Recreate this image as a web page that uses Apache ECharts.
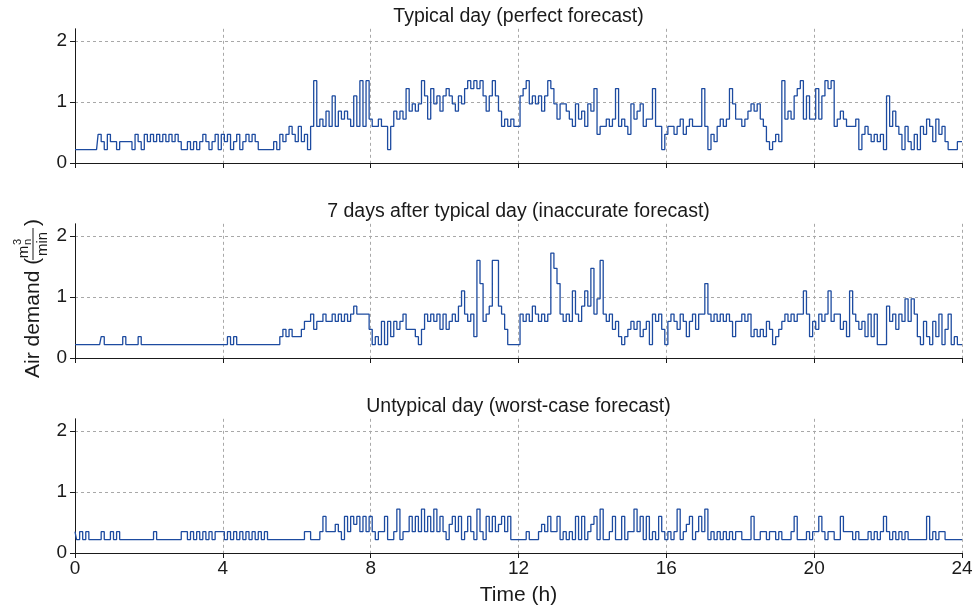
<!DOCTYPE html>
<html><head><meta charset="utf-8">
<script src="https://cdn.jsdelivr.net/npm/echarts@6/dist/echarts.min.js"></script>
<style>html,body{margin:0;padding:0;background:#fff}#c{width:978px;height:609px}</style>
</head><body><div id="c"></div>
<script>
// ---------- data (air demand, m_n^3/min, sampled every 5 minutes, 0h..24h) ----------
const sampleMinutes = 5;
const hourTicks = [0, 4, 8, 12, 16, 20, 24];
const yTicks = [0, 1, 2];
const panelTitles = [
  'Typical day (perfect forecast)',
  '7 days after typical day (inaccurate forecast)',
  'Untypical day (worst-case forecast)'
];
const typicalDay = [
  0.22,0.22,0.22,0.22,0.22,0.22,0.22,0.22,0.47,0.35,0.22,0.47,
  0.35,0.35,0.22,0.35,0.35,0.35,0.35,0.22,0.47,0.35,0.22,0.47,
  0.35,0.47,0.35,0.47,0.35,0.47,0.35,0.47,0.35,0.47,0.35,0.22,
  0.22,0.35,0.22,0.35,0.22,0.35,0.47,0.35,0.22,0.35,0.47,0.22,
  0.47,0.35,0.47,0.22,0.35,0.47,0.22,0.35,0.47,0.35,0.47,0.35,
  0.22,0.22,0.22,0.22,0.22,0.35,0.22,0.47,0.35,0.47,0.6,0.47,
  0.35,0.6,0.35,0.47,0.22,0.6,1.35,0.6,0.72,0.6,0.85,0.6,
  1.1,0.6,0.85,0.72,0.85,0.72,0.6,1.1,0.6,1.35,0.6,1.35,
  0.72,0.6,0.6,0.72,0.6,0.6,0.22,0.6,0.85,0.72,0.85,0.72,
  1.22,0.85,0.97,0.85,0.97,1.35,1.1,0.72,1.22,0.97,1.1,0.85,
  1.1,1.22,1.1,0.97,0.85,1.1,0.97,1.22,1.35,1.22,1.35,1.22,
  1.35,1.1,0.85,1.1,1.35,1.1,0.85,0.6,0.72,0.6,0.72,0.6,
  0.6,1.1,1.22,1.35,0.97,1.1,0.97,1.1,0.85,1.1,1.35,1.22,
  0.97,0.72,0.97,0.97,0.85,0.72,0.6,0.97,0.72,0.85,0.6,0.97,
  0.85,1.22,0.47,0.6,0.6,0.72,0.6,0.72,1.22,0.6,0.72,0.6,
  0.47,0.97,0.72,0.85,0.97,0.6,0.72,0.72,1.22,0.6,0.6,0.22,
  0.47,0.6,0.6,0.47,0.6,0.72,0.47,0.6,0.72,0.6,0.6,0.6,
  1.22,0.6,0.22,0.47,0.35,0.6,0.72,0.6,0.72,1.22,0.97,0.72,
  0.72,0.6,0.72,0.85,0.97,0.85,0.97,0.72,0.6,0.35,0.22,0.35,
  0.47,0.35,1.35,0.72,0.85,0.72,1.1,1.22,1.35,0.72,1.1,0.72,
  0.72,1.22,0.72,1.1,1.35,1.22,1.35,0.6,0.72,0.85,0.72,0.6,
  0.6,0.6,0.72,0.22,0.47,0.6,0.47,0.35,0.47,0.35,0.47,0.22,
  1.1,0.6,0.85,0.6,0.47,0.22,0.6,0.35,0.22,0.47,0.22,0.6,
  0.47,0.72,0.6,0.35,0.72,0.47,0.6,0.35,0.22,0.22,0.22,0.35,
  0.35
];
const sevenDaysAfter = [
  0.22,0.22,0.22,0.22,0.22,0.22,0.22,0.22,0.22,0.35,0.22,0.22,
  0.22,0.22,0.22,0.22,0.35,0.22,0.22,0.22,0.22,0.35,0.22,0.22,
  0.22,0.22,0.22,0.22,0.22,0.22,0.22,0.22,0.22,0.22,0.22,0.22,
  0.22,0.22,0.22,0.22,0.22,0.22,0.22,0.22,0.22,0.22,0.22,0.22,
  0.22,0.22,0.35,0.22,0.35,0.22,0.22,0.22,0.22,0.22,0.22,0.22,
  0.22,0.22,0.22,0.22,0.22,0.22,0.22,0.35,0.47,0.35,0.47,0.35,
  0.35,0.35,0.47,0.6,0.6,0.72,0.47,0.6,0.6,0.72,0.6,0.6,
  0.72,0.6,0.72,0.6,0.72,0.6,0.72,0.85,0.72,0.72,0.72,0.72,
  0.47,0.22,0.35,0.22,0.6,0.22,0.6,0.35,0.6,0.47,0.6,0.72,
  0.47,0.47,0.47,0.35,0.22,0.47,0.72,0.6,0.72,0.6,0.72,0.47,
  0.72,0.47,0.6,0.72,0.6,0.85,1.1,0.72,0.6,0.72,0.35,1.6,
  1.22,0.6,0.72,0.85,1.6,1.6,0.85,0.72,0.47,0.22,0.22,0.22,
  0.22,0.72,0.6,0.72,0.6,0.85,0.72,0.6,0.72,0.6,0.72,1.72,
  1.47,1.22,0.72,0.6,0.72,0.6,1.1,0.72,0.6,0.85,1.1,0.85,
  1.47,0.72,0.97,1.6,0.72,0.6,0.72,0.47,0.6,0.35,0.22,0.35,
  0.47,0.6,0.47,0.6,0.35,0.47,0.6,0.22,0.72,0.6,0.72,0.47,
  0.22,0.6,0.72,0.6,0.47,0.72,0.6,0.35,0.6,0.72,0.47,0.72,
  0.72,1.22,0.72,0.6,0.72,0.6,0.72,0.6,0.72,0.6,0.35,0.6,
  0.6,0.72,0.6,0.72,0.35,0.47,0.35,0.47,0.35,0.6,0.47,0.22,
  0.35,0.47,0.6,0.72,0.6,0.72,0.6,0.72,0.72,1.1,0.72,0.35,
  0.6,0.47,0.72,0.6,0.72,1.1,0.6,0.72,0.72,0.47,0.6,0.35,
  1.1,0.72,0.6,0.47,0.6,0.35,0.72,0.35,0.72,0.22,0.22,0.22,
  0.85,0.6,0.72,0.47,0.72,0.6,0.97,0.6,0.97,0.72,0.35,0.22,
  0.6,0.35,0.22,0.6,0.35,0.72,0.22,0.47,0.72,0.22,0.35,0.22,
  0.22
];
const untypicalDay = [
  0.35,0.22,0.35,0.22,0.35,0.22,0.22,0.22,0.22,0.35,0.22,0.22,
  0.35,0.22,0.35,0.22,0.22,0.22,0.22,0.22,0.22,0.22,0.22,0.22,
  0.22,0.22,0.35,0.22,0.22,0.22,0.22,0.22,0.22,0.22,0.22,0.35,
  0.35,0.22,0.35,0.22,0.35,0.22,0.35,0.22,0.35,0.22,0.35,0.35,
  0.35,0.22,0.35,0.22,0.35,0.22,0.35,0.22,0.35,0.22,0.35,0.22,
  0.35,0.22,0.35,0.22,0.22,0.22,0.22,0.22,0.22,0.22,0.22,0.22,
  0.22,0.22,0.22,0.35,0.35,0.22,0.22,0.22,0.35,0.6,0.35,0.35,
  0.35,0.47,0.35,0.22,0.6,0.35,0.6,0.47,0.6,0.35,0.6,0.35,
  0.6,0.35,0.22,0.35,0.35,0.6,0.22,0.22,0.35,0.72,0.22,0.35,
  0.35,0.6,0.35,0.6,0.35,0.72,0.35,0.6,0.35,0.72,0.35,0.6,
  0.35,0.22,0.47,0.6,0.35,0.6,0.22,0.35,0.6,0.35,0.22,0.72,
  0.35,0.22,0.6,0.35,0.6,0.35,0.47,0.6,0.35,0.6,0.22,0.22,
  0.22,0.22,0.22,0.35,0.22,0.22,0.22,0.35,0.47,0.35,0.6,0.35,
  0.35,0.6,0.22,0.35,0.22,0.35,0.22,0.6,0.22,0.6,0.22,0.35,
  0.47,0.6,0.22,0.72,0.22,0.22,0.35,0.6,0.22,0.22,0.6,0.22,
  0.35,0.35,0.72,0.35,0.6,0.22,0.6,0.22,0.35,0.22,0.6,0.35,
  0.22,0.35,0.22,0.35,0.72,0.22,0.35,0.47,0.6,0.22,0.35,0.6,
  0.35,0.72,0.22,0.35,0.22,0.35,0.22,0.35,0.22,0.35,0.22,0.35,
  0.35,0.22,0.22,0.22,0.6,0.22,0.22,0.35,0.35,0.22,0.35,0.35,
  0.22,0.35,0.22,0.22,0.22,0.35,0.6,0.22,0.22,0.22,0.35,0.22,
  0.35,0.35,0.6,0.35,0.22,0.35,0.35,0.22,0.22,0.6,0.35,0.35,
  0.35,0.22,0.35,0.22,0.22,0.22,0.35,0.22,0.35,0.22,0.35,0.6,
  0.35,0.22,0.35,0.22,0.35,0.22,0.35,0.22,0.22,0.22,0.22,0.22,
  0.22,0.6,0.22,0.35,0.22,0.35,0.35,0.22,0.22,0.22,0.22,0.22,
  0.22
];
const panels = [typicalDay, sevenDaysAfter, untypicalDay];

// ---------- chart ----------
const FONT = '"Liberation Sans", Arial, sans-serif';
const TXT = '#1a1a1a';
const LINE = '#1d4ba0';
const GRID_COLOR = '#a8a8a8';
const gridTops = [28.8, 223.8, 418.8];
const plotH = 134.2;

function toPairs(arr) { return arr.map((v, i) => [i * sampleMinutes / 60, v]); }

const grids = [], xAxes = [], yAxes = [], series = [];
panels.forEach((vals, i) => {
  grids.push({ left: 75, width: 887, top: gridTops[i], height: plotH, containLabel: false });
  xAxes.push({
    type: 'value', gridIndex: i, min: 0, max: 24, interval: 4,
    axisLine: { show: true, onZero: false, lineStyle: { color: TXT, width: 1 } },
    axisTick: { show: true, length: 5, inside: false, lineStyle: { color: TXT } },
    axisLabel: { show: i === 2, color: TXT, fontSize: 19, fontFamily: FONT, margin: 6,
      formatter: v => hourTicks.includes(v) ? String(v) : '' },
    splitLine: { show: true, lineStyle: { color: GRID_COLOR, type: [3, 3], width: 1 } }
  });
  yAxes.push({
    type: 'value', gridIndex: i, min: 0, max: 2.2,
    axisLine: { show: true, lineStyle: { color: TXT, width: 1 } },
    axisTick: { show: true, length: 5, customValues: yTicks, lineStyle: { color: TXT } },
    axisLabel: { show: true, customValues: yTicks, color: TXT, fontSize: 19, fontFamily: FONT, margin: 8 },
    splitLine: { show: true, lineStyle: { color: GRID_COLOR, type: [3, 3], width: 1 } }
  });
  series.push({
    type: 'line', xAxisIndex: i, yAxisIndex: i, data: toPairs(vals),
    step: 'middle', showSymbol: false, symbol: 'none', sampling: null,
    lineStyle: { color: LINE, width: 1.3 }, silent: true, z: 5
  });
});

const titleY = [17, 212, 407];
const graphics = panelTitles.map((t, i) => ({
  type: 'text', x: 518.5, y: titleY[i],
  style: { text: t, fill: TXT, font: '19.5px ' + FONT, textAlign: 'center', textVerticalAlign: 'middle' }
}));
graphics.push({
  type: 'text', x: 518.5, y: 595,
  style: { text: 'Time (h)', fill: TXT, font: '21px ' + FONT, textAlign: 'center', textVerticalAlign: 'middle' }
});
graphics.push({
  type: 'group', x: 33, y: 280, rotation: Math.PI / 2,
  children: [
    { type: 'text', x: -98, y: 0, style: { text: 'Air demand (', fill: TXT, font: '21px ' + FONT, textAlign: 'left', textVerticalAlign: 'middle' } },
    { type: 'text', x: 28, y: -9, style: { text: 'm', fill: TXT, font: '15px ' + FONT, textAlign: 'center', textVerticalAlign: 'middle' } },
    { type: 'text', x: 35, y: -15, style: { text: '3', fill: TXT, font: '11px ' + FONT, textAlign: 'left', textVerticalAlign: 'middle' } },
    { type: 'text', x: 35, y: -5, style: { text: 'n', fill: TXT, font: '11px ' + FONT, textAlign: 'left', textVerticalAlign: 'middle' } },
    { type: 'line', shape: { x1: 20, y1: 0, x2: 52, y2: 0 }, style: { stroke: TXT, lineWidth: 1 } },
    { type: 'text', x: 36, y: 10, style: { text: 'min', fill: TXT, font: '15px ' + FONT, textAlign: 'center', textVerticalAlign: 'middle' } },
    { type: 'text', x: 54, y: 0, style: { text: ')', fill: TXT, font: '21px ' + FONT, textAlign: 'left', textVerticalAlign: 'middle' } }
  ]
});

const chart = echarts.init(document.getElementById('c'), null, { renderer: 'canvas' });
chart.setOption({
  animation: false,
  backgroundColor: '#ffffff',
  grid: grids, xAxis: xAxes, yAxis: yAxes, series: series,
  graphic: graphics
});
</script></body></html>
